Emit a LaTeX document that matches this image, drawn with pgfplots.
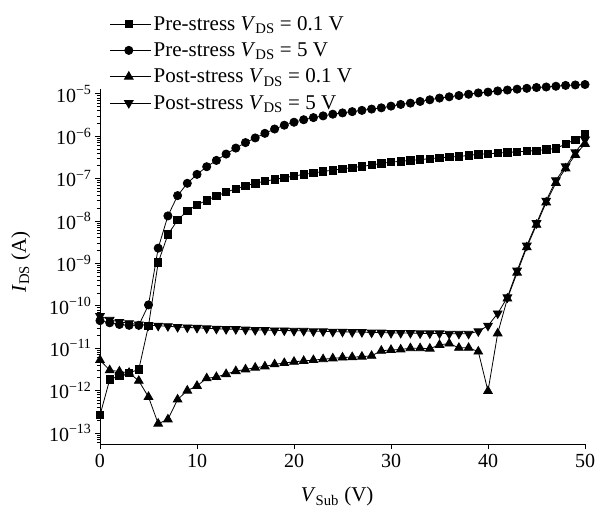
\documentclass[border=0pt]{standalone}
\usepackage{fontspec}
\setmainfont{Liberation Serif}
\usepackage{pgfplots}
\pgfplotsset{compat=1.18}
\newcommand\fs{\fontsize{20bp}{24bp}\selectfont}
\newcommand\fl{\fontsize{21bp}{25bp}\selectfont}
\begin{document}
\begin{tikzpicture}
\path[use as bounding box] (-100bp,-70bp) rectangle (496bp,444bp);
\begin{axis}[
  scale only axis, width=485bp, height=355bp,
  ymode=log, xmin=0, xmax=50, ymin=5.5e-14, ymax=1.3e-5,
  enlargelimits=false, clip=false,
  axis x line*=bottom, axis y line*=left,
  axis line style={line width=0.9bp},
  tick align=outside, tick style={black, line width=0.8bp},
  major tick length=5bp, minor tick length=3bp,
  xtick={0,10,20,30,40,50},
  ytick={1e-13,1e-12,1e-11,1e-10,1e-9,1e-8,1e-7,1e-6,1e-5},
  yticklabels={10\textsuperscript{−13},10\textsuperscript{−12},10\textsuperscript{−11},10\textsuperscript{−10},10\textsuperscript{−9},10\textsuperscript{−8},10\textsuperscript{−7},10\textsuperscript{−6},10\textsuperscript{−5}},
  minor ytick={6e-14,7e-14,8e-14,9e-14,
    2e-13,3e-13,4e-13,5e-13,6e-13,7e-13,8e-13,9e-13,
    2e-12,3e-12,4e-12,5e-12,6e-12,7e-12,8e-12,9e-12,
    2e-11,3e-11,4e-11,5e-11,6e-11,7e-11,8e-11,9e-11,
    2e-10,3e-10,4e-10,5e-10,6e-10,7e-10,8e-10,9e-10,
    2e-9,3e-9,4e-9,5e-9,6e-9,7e-9,8e-9,9e-9,
    2e-8,3e-8,4e-8,5e-8,6e-8,7e-8,8e-8,9e-8,
    2e-7,3e-7,4e-7,5e-7,6e-7,7e-7,8e-7,9e-7,
    2e-6,3e-6,4e-6,5e-6,6e-6,7e-6,8e-6,9e-6},
  /pgf/number format/assume math mode=true,
  tick label style={font=\fs},
  xticklabel style={yshift=-2bp},
  xlabel={\textit{V}\textsubscript{Sub} (V)},
  ylabel={\textit{I}\textsubscript{DS} (A)},
  every axis x label/.style={at={(axis description cs:0.489,-0.149)}, anchor=center, font=\fl},
  every axis y label/.style={at={(axis description cs:-0.163,0.513)}, rotate=90, anchor=center, font=\fl},
  legend style={at={(axis description cs:0.02,1.211)}, anchor=north west, draw=none, fill=none, font=\fl, inner sep=0pt, row sep=7bp, cells={anchor=west}},
  legend image code/.code={\path (0bp,0bp) -- (41bp,0bp);\draw[mark repeat=2,mark phase=2] plot coordinates {(0bp,0bp) (18.5bp,0bp) (37bp,0bp)};},
  every axis plot/.append style={black, line width=0.8bp},
]
\addplot[mark=square*, mark size=3.7bp] coordinates {
(0,2.63e-13)(1,1.82e-12)(2,2.24e-12)(3,2.63e-12)(4,3.16e-12)(5,3.39e-11)(6,1.05e-9)(7,4.79e-9)(8,1.05e-8)(9,1.74e-8)
(10,2.40e-8)(11,3.09e-8)(12,3.89e-8)(13,4.79e-8)(14,5.75e-8)(15,6.76e-8)(16,7.76e-8)(17,8.71e-8)(18,9.55e-8)(19,1.05e-7)
(20,1.15e-7)(21,1.26e-7)(22,1.35e-7)(23,1.48e-7)(24,1.58e-7)(25,1.70e-7)(26,1.82e-7)(27,1.95e-7)(28,2.09e-7)(29,2.29e-7)
(30,2.45e-7)(31,2.57e-7)(32,2.69e-7)(33,2.82e-7)(34,2.95e-7)(35,3.09e-7)(36,3.24e-7)(37,3.31e-7)(38,3.55e-7)(39,3.72e-7)
(40,3.89e-7)(41,3.98e-7)(42,4.17e-7)(43,4.27e-7)(44,4.47e-7)(45,4.57e-7)(46,4.90e-7)(47,5.13e-7)(48,6.61e-7)(49,8.32e-7)(50,1.10e-6)};
\addlegendentry{Pre-stress \textit{V}\textsubscript{DS} = 0.1 V}
\addplot[mark=*, mark size=4.1bp] coordinates {
(0,4.47e-11)(1,3.98e-11)(2,3.63e-11)(3,3.47e-11)(4,3.47e-11)(5,1.05e-10)(6,2.29e-9)(7,1.32e-8)(8,3.98e-8)(9,7.76e-8)
(10,1.26e-7)(11,1.91e-7)(12,2.69e-7)(13,3.80e-7)(14,5.25e-7)(15,7.08e-7)(16,9.12e-7)(17,1.17e-6)(18,1.48e-6)(19,1.82e-6)
(20,2.14e-6)(21,2.45e-6)(22,2.75e-6)(23,3.02e-6)(24,3.31e-6)(25,3.55e-6)(26,3.80e-6)(27,4.07e-6)(28,4.37e-6)(29,4.68e-6)
(30,5.13e-6)(31,5.62e-6)(32,6.03e-6)(33,6.61e-6)(34,7.24e-6)(35,7.94e-6)(36,8.51e-6)(37,9.12e-6)(38,9.77e-6)(39,1.05e-5)
(40,1.10e-5)(41,1.17e-5)(42,1.23e-5)(43,1.29e-5)(44,1.35e-5)(45,1.41e-5)(46,1.45e-5)(47,1.51e-5)(48,1.58e-5)(49,1.62e-5)(50,1.66e-5)};
\addlegendentry{Pre-stress \textit{V}\textsubscript{DS} = 5 V}
\addplot[mark=triangle*, mark size=5bp] coordinates {
(0,5.25e-12)(1,3.02e-12)(2,2.82e-12)(3,2.63e-12)(4,1.70e-12)(5,7.08e-13)(6,1.66e-13)(7,2.09e-13)(8,6.17e-13)(9,1.00e-12)
(10,1.29e-12)(11,1.95e-12)(12,2.09e-12)(13,2.45e-12)(14,2.88e-12)(15,3.16e-12)(16,3.47e-12)(17,3.72e-12)(18,4.17e-12)(19,4.47e-12)
(20,4.79e-12)(21,5.01e-12)(22,5.25e-12)(23,5.50e-12)(24,5.75e-12)(25,6.03e-12)(26,6.17e-12)(27,6.31e-12)(28,6.61e-12)(29,8.71e-12)
(30,9.12e-12)(31,9.33e-12)(32,1.00e-11)(33,1.00e-11)(34,9.77e-12)(35,1.20e-11)(36,1.29e-11)(37,1.02e-11)(38,1.02e-11)(39,8.32e-12)
(40,9.77e-13)(41,2.24e-11)(42,1.48e-10)(43,6.03e-10)(44,2.40e-9)(45,8.13e-9)(46,2.75e-8)(47,7.94e-8)(48,1.74e-7)(49,3.63e-7)(50,6.61e-7)};
\addlegendentry{Post-stress \textit{V}\textsubscript{DS} = 0.1 V}
\addplot[mark=triangle*, mark size=5bp, every mark/.append style={rotate=180}] coordinates {
(0,5.75e-11)(1,4.68e-11)(2,4.17e-11)(3,3.89e-11)(4,3.63e-11)(5,3.47e-11)(6,3.39e-11)(7,3.31e-11)(8,3.16e-11)(9,3.09e-11)
(10,3.02e-11)(11,2.95e-11)(12,2.88e-11)(13,2.82e-11)(14,2.82e-11)(15,2.75e-11)(16,2.69e-11)(17,2.69e-11)(18,2.63e-11)(19,2.63e-11)
(20,2.57e-11)(21,2.57e-11)(22,2.51e-11)(23,2.51e-11)(24,2.45e-11)(25,2.45e-11)(26,2.40e-11)(27,2.40e-11)(28,2.34e-11)(29,2.34e-11)
(30,2.29e-11)(31,2.29e-11)(32,2.29e-11)(33,2.24e-11)(34,2.24e-11)(35,2.24e-11)(36,2.19e-11)(37,2.19e-11)(38,2.19e-11)(39,2.51e-11)
(40,3.39e-11)(41,6.61e-11)(42,1.58e-10)(43,6.76e-10)(44,2.63e-9)(45,8.91e-9)(46,3.02e-8)(47,9.12e-8)(48,1.95e-7)(49,4.17e-7)(50,8.32e-7)};
\addlegendentry{Post-stress \textit{V}\textsubscript{DS} = 5 V}
\end{axis}
\end{tikzpicture}
\end{document}
